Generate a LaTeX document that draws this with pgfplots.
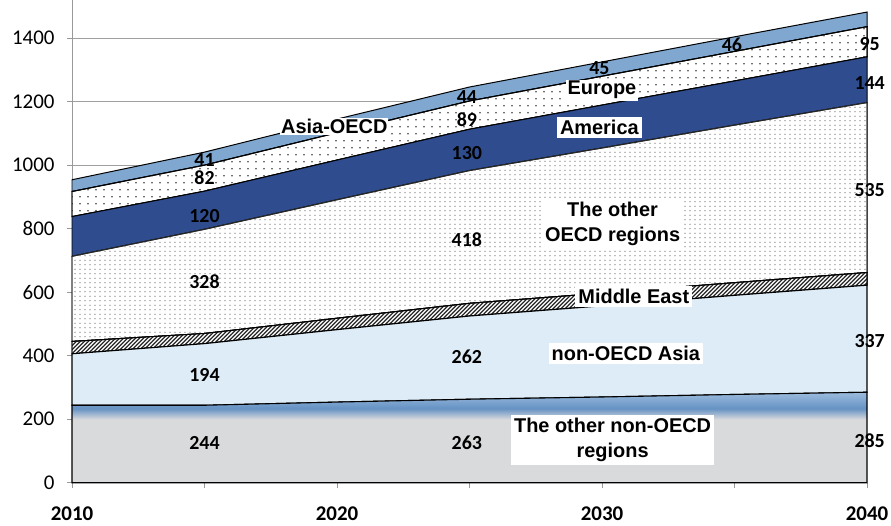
\documentclass[border=0pt]{standalone}
\usepackage{fontspec}
\setmainfont{Carlito}
\newfontfamily\arialfont{Liberation Sans}
\usepackage{pgfplots}
\pgfplotsset{compat=1.18}
\usetikzlibrary{patterns}

\definecolor{lgrey}{HTML}{D9DADC}
\definecolor{midblue}{HTML}{6592C4}
\definecolor{lightmid}{HTML}{9DBCDD}
\definecolor{paleblue}{HTML}{DDECF6}
\definecolor{amblue}{HTML}{2E4C8E}
\definecolor{asiablue}{HTML}{7FA7CF}
\pgfdeclareverticalshading{greyblue}{100bp}{color(0bp)=(lgrey); color(25bp)=(lgrey); color(60bp)=(lgrey); color(66bp)=(midblue); color(75bp)=(lightmid); color(100bp)=(lightmid)}

\pgfdeclarepatternformonly{densedots}{\pgfqpoint{-1bp}{-1bp}}{\pgfqpoint{1bp}{1bp}}{\pgfqpoint{5bp}{4.5bp}}{\pgfpathcircle{\pgfqpoint{0bp}{0bp}}{0.7bp}\pgfusepath{fill}}
\pgfdeclarepatternformonly{sparsedots}{\pgfqpoint{-1bp}{-1bp}}{\pgfqpoint{1bp}{1bp}}{\pgfqpoint{8bp}{7bp}}{\pgfpathcircle{\pgfqpoint{0bp}{0bp}}{0.9bp}\pgfusepath{fill}}
\pgfdeclarepatternformonly{hatch}{\pgfqpoint{-1bp}{-1bp}}{\pgfqpoint{5bp}{5bp}}{\pgfqpoint{4bp}{4bp}}{\pgfsetlinewidth{1.1bp}\pgfpathmoveto{\pgfqpoint{0bp}{0bp}}\pgfpathlineto{\pgfqpoint{4.1bp}{4.1bp}}\pgfusepath{stroke}}

\tikzset{
  num/.style={font=\fontsize{20}{24}\selectfont\bfseries, inner sep=1pt},
  reg/.style={font=\arialfont\fontsize{20}{26}\selectfont\bfseries, fill=white, inner sep=3pt, align=center},
}

\begin{document}
\begin{tikzpicture}
\begin{axis}[name=ax, set layers, scale only axis, width=795bp, height=482.75bp,
  every axis plot/.append style={on layer=pre main},
  xmin=2010, xmax=2040, ymin=0, ymax=1520,
  axis lines=left, axis line style={-, draw=gray!80, line width=0.7pt},
  xtick={2010,2015,...,2040}, xticklabels={2010,,2020,,2030,,2040},
  ytick={0,200,...,1400},
  ymajorgrids, grid style={draw=gray!75, line width=0.8pt},
  tick align=outside, major tick length=5bp, tick style={draw=gray!80, line width=0.7pt},
  yticklabel style={font=\fontsize{21}{24}\selectfont, xshift=-9bp},
  xticklabel style={font=\fontsize{21}{24}\selectfont\bfseries, yshift=-16bp},
  /pgf/number format/assume math mode=true,
  /pgf/number format/1000 sep={},
  stack plots=y, clip=false,
]
% The other non-OECD regions
\addplot[draw=black, line width=1.1pt, shade, shading=greyblue] coordinates {(2010,244)(2015,244)(2020,254)(2025,263)(2030,270)(2035,278)(2040,285)} \closedcycle;
% non-OECD Asia
\addplot[draw=black, line width=1.1pt, fill=paleblue] coordinates {(2010,162)(2015,194)(2020,228)(2025,262)(2030,287)(2035,312)(2040,337)} \closedcycle;
% Middle East
\addplot[draw=black, line width=1pt, fill=white, postaction={pattern=hatch, pattern color=black!85}] coordinates {(2010,39)(2015,32)(2020,36)(2025,40)(2030,40)(2035,40)(2040,40)} \closedcycle;
% The other OECD regions
\addplot[draw=black!85, line width=1pt, fill=white, postaction={pattern=densedots, pattern color=black!60}] coordinates {(2010,268)(2015,328)(2020,373)(2025,418)(2030,457)(2035,496)(2040,535)} \closedcycle;
% America
\addplot[draw=black, line width=1pt, fill=amblue] coordinates {(2010,125)(2015,120)(2020,125)(2025,130)(2030,135)(2035,139)(2040,144)} \closedcycle;
% Europe
\addplot[draw=black, line width=1pt, fill=white, postaction={pattern=sparsedots, pattern color=black!75}] coordinates {(2010,79)(2015,82)(2020,86)(2025,89)(2030,91)(2035,93)(2040,95)} \closedcycle;
% Asia-OECD
\addplot[draw=black, line width=1pt, fill=asiablue] coordinates {(2010,37)(2015,41)(2020,43)(2025,44)(2030,45)(2035,46)(2040,46)} \closedcycle;

% value labels
\node[num] at (axis cs:2015,1017) {41};
\node[num] at (axis cs:2015,960) {82};
\node[num] at (axis cs:2015,841) {120};
\node[num] at (axis cs:2015,633) {328};
\node[num] at (axis cs:2015,340) {194};
\node[num] at (axis cs:2015,126) {244};
\node[num] at (axis cs:2024.9,1215) {44};
\node[num] at (axis cs:2024.9,1143) {89};
\node[num] at (axis cs:2024.9,1039) {130};
\node[num] at (axis cs:2024.9,765) {418};
\node[num] at (axis cs:2024.9,397) {262};
\node[num] at (axis cs:2024.9,126) {263};
\node[num] at (axis cs:2029.9,1305) {45};
\node[num] at (axis cs:2034.9,1379) {46};
\node[num] at (axis cs:2040.1,1382) {95};
\node[num] at (axis cs:2040.1,1259) {144};
\node[num] at (axis cs:2040.1,923) {535};
\node[num] at (axis cs:2040.1,447) {337};
\node[num] at (axis cs:2040.1,132) {285};

% region labels
\node[reg, inner sep=1pt] at (axis cs:2019.9,1121) {Asia-OECD};
\node[reg, inner sep=1.5pt] at (axis cs:2030.0,1236) {Europe};
\node[reg] at (axis cs:2029.9,1118) {America};
\node[reg] at (axis cs:2030.4,815) {The other\\OECD regions};
\node[reg] at (axis cs:2031.2,586) {Middle East};
\node[reg] at (axis cs:2030.9,406) {non-OECD Asia};
\node[reg] at (axis cs:2030.4,135) {The other non-OECD\\regions};
\end{axis}
\pgfresetboundingbox
\path ([shift={(-72bp,-43bp)}]ax.south west) rectangle ([shift={(24bp,0bp)}]ax.north east);
\end{tikzpicture}
\end{document}
